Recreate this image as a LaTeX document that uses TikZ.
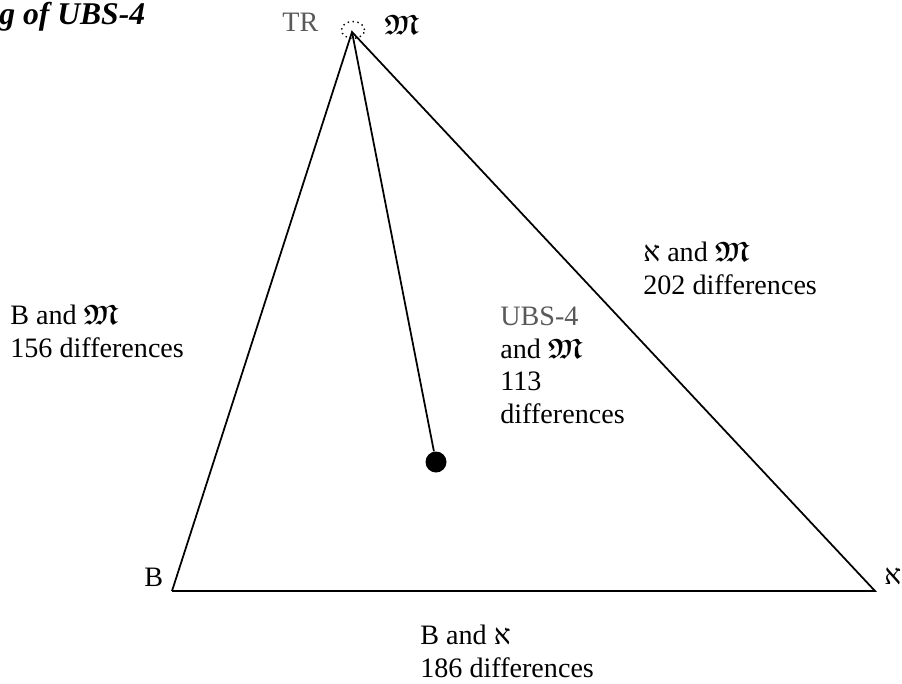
\documentclass[tikz,border=0pt]{standalone}
\usepackage{fontspec}
\setmainfont{Liberation Serif}
\usepackage{amsmath, amssymb}
\usepackage{tikz}
\usetikzlibrary{shapes.geometric, positioning, calc}

\newcommand{\frakM}{$\boldsymbol{\mathfrak{M}}$}
\newcommand{\alefsign}{א}

\begin{document}
\begin{tikzpicture}[
    x=0.02cm, y=-0.02cm,
    label/.style={inner sep=0pt, align=left, font=\fontsize{16}{18.5}\selectfont},
    greylabel/.style={label, text=black!65},
    edge/.style={line width=1pt},
    dot/.style={circle, fill=black, inner sep=0pt, minimum size=0.42cm}
]
\useasboundingbox (0,0) rectangle (902,683);

% Title (cut off)
\node[label, anchor=base west, font=\fontsize{18}{20}\selectfont\bfseries\itshape] (title) at (-1,24) {g of UBS-4};

% Corners
\coordinate (tr) at (352,32);
\coordinate (b) at (172,591);
\coordinate (alef) at (875,591);
\node[dot] (ubs) at (436,462) {};
\node[draw, dotted, ellipse, thick, minimum width=0.46cm, minimum height=0.34cm, inner sep=0pt] (trmark) at (353,30) {};

% Triangle
\draw[edge] (b) -- (tr) -- (alef) -- (b);
\draw[edge] (tr) -- (ubs);

% Corner names
\node[greylabel, anchor=base west] (trname) at (282,31) {TR};
\node[label, anchor=base west] (mname) at (384,34) {\frakM};
\node[label, anchor=base west] (bname) at (144,586) {B};
\node[label, anchor=base west] (alefname) at (884,584) {\alefsign};

% Differences
\node[label, anchor=north west] (bm) at (10,305) {B and \frakM\\156 differences};
\node[label, anchor=north west] (am) at (643,242) {\alefsign{} and \frakM\\202 differences};
\node[label, anchor=north west] (ba) at (420,625) {B and \alefsign\\186 differences};
\node[label, anchor=north west] (um) at (500,307) {\textcolor{black!65}{UBS-4}\\and \frakM\\113\\differences};

\end{tikzpicture}
\end{document}
